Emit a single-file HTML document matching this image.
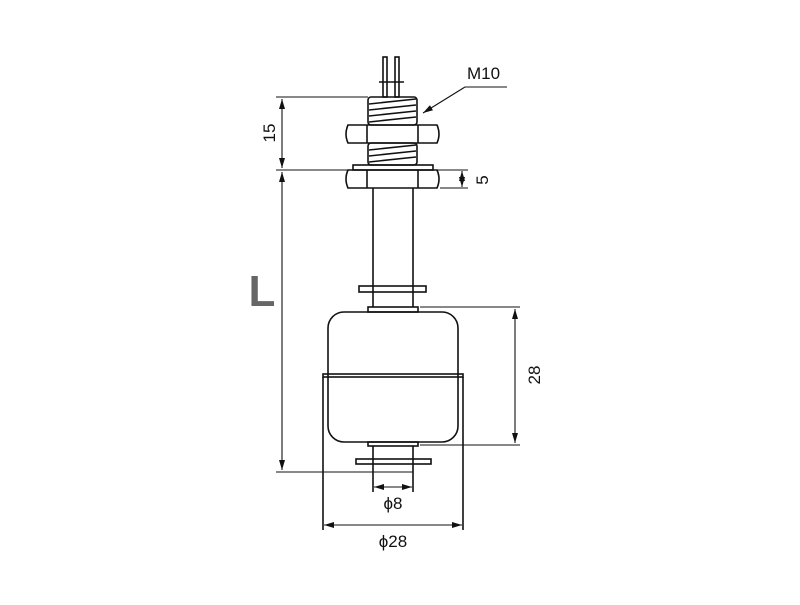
<!DOCTYPE html>
<html><head><meta charset="utf-8"><style>body{margin:0;background:#fff}</style></head><body>
<svg width="800" height="600" viewBox="0 0 800 600" xmlns="http://www.w3.org/2000/svg" font-family="Liberation Sans, sans-serif">
<defs><marker id="a" viewBox="0 0 10 6" refX="10" refY="3" markerWidth="10" markerHeight="6" orient="auto-start-reverse" markerUnits="userSpaceOnUse"><path d="M0,0L10,3L0,6z" fill="#111"/></marker></defs>
<g fill="none" stroke="#111" stroke-width="1.6">
<rect x="383" y="57" width="4" height="40"/><rect x="395" y="57" width="4" height="40"/>
<line x1="379" y1="82" x2="404" y2="82"/>
<rect x="368" y="97" width="49" height="28" rx="3"/>
<path d="M369,104L416,99M369,110L416,105M369,116L416,111M369,122L416,117"/>
<path d="M348,125L437,125Q441,134 437,143L348,143Q344,134 348,125Z"/>
<line x1="367" y1="125" x2="367" y2="143"/><line x1="418" y1="125" x2="418" y2="143"/>
<rect x="368" y="143" width="49" height="22" rx="3"/>
<path d="M369,150L416,145M369,156L416,151M369,162L416,157"/>
<rect x="353" y="165" width="80" height="5"/>
<path d="M348,170L437,170Q441,179 437,188L348,188Q344,179 348,170Z"/>
<line x1="367" y1="170" x2="367" y2="188"/><line x1="418" y1="170" x2="418" y2="188"/>
<line x1="373" y1="188" x2="373" y2="307"/><line x1="413" y1="188" x2="413" y2="307"/>
<rect x="359" y="286" width="67" height="6"/>
<rect x="368" y="307" width="50" height="5"/>
<rect x="328" y="312" width="130" height="130" rx="16"/>
<rect x="323" y="374" width="140" height="3"/>
<line x1="323" y1="377" x2="323" y2="530"/><line x1="463" y1="377" x2="463" y2="530"/>
<rect x="368" y="442" width="50" height="4"/>
<line x1="373" y1="446" x2="373" y2="492"/><line x1="413" y1="446" x2="413" y2="492"/>
<rect x="356" y="459" width="75" height="5"/>
</g>
<g stroke="#111" stroke-width="1.1">
<line x1="276" y1="97" x2="368" y2="97"/>
<line x1="276" y1="170" x2="468" y2="170"/>
<line x1="440" y1="188" x2="468" y2="188"/>
<line x1="282" y1="99" x2="282" y2="168" marker-start="url(#a)" marker-end="url(#a)"/>
<line x1="282" y1="172" x2="282" y2="470" marker-start="url(#a)" marker-end="url(#a)"/>
<line x1="276" y1="472" x2="413" y2="472"/>
<line x1="462" y1="171" x2="462" y2="187" marker-start="url(#a)" marker-end="url(#a)"/>
<line x1="423" y1="113" x2="465" y2="87" marker-start="url(#a)"/>
<line x1="465" y1="87" x2="507" y2="87"/>
<line x1="420" y1="307" x2="520" y2="307"/>
<line x1="420" y1="445" x2="520" y2="445"/>
<line x1="515" y1="309" x2="515" y2="443" marker-start="url(#a)" marker-end="url(#a)"/>
<line x1="374" y1="487" x2="412" y2="487" marker-start="url(#a)" marker-end="url(#a)"/>
<line x1="324" y1="525" x2="462" y2="525" marker-start="url(#a)" marker-end="url(#a)"/>
</g>
<g fill="#111" font-size="17">
<text x="467" y="79">M10</text>
<text transform="translate(275,133) rotate(-90)" text-anchor="middle">15</text>
<text transform="translate(488,180) rotate(-90)" text-anchor="middle">5</text>
<text transform="translate(540,375) rotate(-90)" text-anchor="middle">28</text>
<text x="393" y="509" text-anchor="middle">ϕ8</text>
<text x="393" y="547" text-anchor="middle">ϕ28</text>
</g>
<text x="262" y="306" font-size="44" font-weight="bold" fill="#666" text-anchor="middle">L</text>
</svg>
</body></html>
